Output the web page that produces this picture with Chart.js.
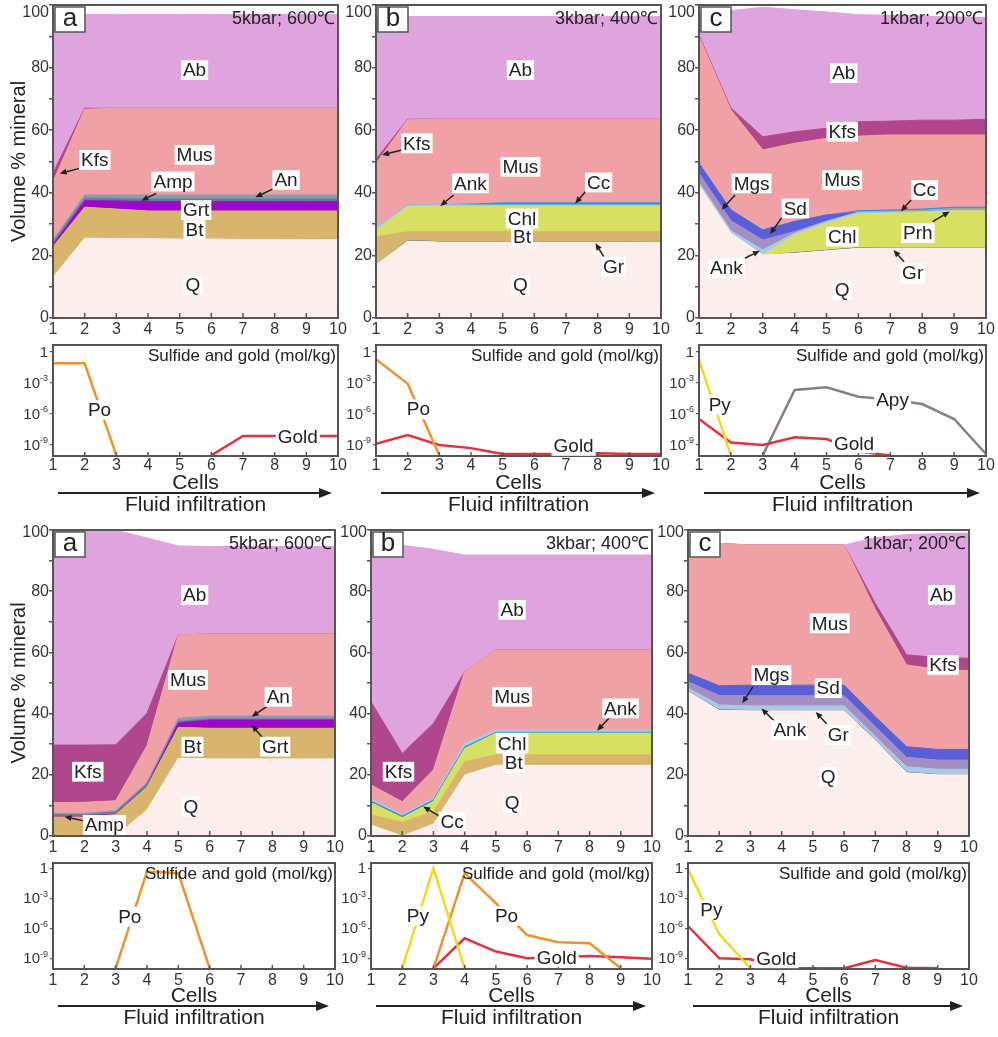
<!DOCTYPE html>
<html><head><meta charset="utf-8">
<script src="https://cdn.jsdelivr.net/npm/chart.js@4.4.1/dist/chart.umd.min.js"></script>
<style>
html,body{margin:0;padding:0;background:#fff;}
body{width:998px;height:1037px;position:relative;overflow:hidden;}
canvas{position:absolute;}
</style></head><body>
<script>
// ---- data -------------------------------------------------------------
const cells = [1, 2, 3, 4, 5, 6, 7, 8, 9, 10];
const volTicks = [0, 20, 40, 60, 80, 100];
const logTicks = [1e-9, 1e-6, 1e-3, 1];

// Upper series, 5 kbar / 600 C : volume % per cell
const topA_Q   = [13.0, 25.5, 25.4, 25.3, 25.2, 25.2, 25.1, 25.1, 25.0, 25.0];
const topA_Bt  = [9.8, 9.9, 9.4, 8.9, 9.0, 9.0, 9.1, 9.1, 9.2, 9.2];
const topA_Grt = [0.6, 2.1, 2.6, 3.0, 3.0, 3.0, 3.0, 3.0, 3.0, 3.0];
const topA_Amp = [0.8, 0.8, 0.8, 0.8, 0.8, 0.8, 0.8, 0.8, 0.8, 0.8];
const topA_An  = [0.7, 1.0, 1.1, 1.3, 1.3, 1.3, 1.3, 1.3, 1.3, 1.3];
const topA_Mus = [18.6, 27.4, 27.7, 27.7, 27.7, 27.7, 27.7, 27.7, 27.7, 27.7];
const topA_Kfs = [2.8, 0.3, 0, 0, 0, 0, 0, 0, 0, 0];
const topA_Ab  = [50.7, 30.0, 30.0, 30.0, 30.0, 30.0, 30.0, 30.0, 30.0, 30.0];

// Upper series, 3 kbar / 400 C
const topB_Q   = [16.9, 24.6, 24.3, 24.3, 24.3, 24.3, 24.3, 24.3, 24.3, 24.3];
const topB_Gr  = [0, 0.3, 0.3, 0.3, 0.3, 0.3, 0.3, 0.3, 0.3, 0.3];
const topB_Bt  = [9.0, 2.7, 3.0, 3.0, 3.0, 3.0, 3.0, 3.0, 3.0, 3.0];
const topB_Chl = [2.1, 7.9, 8.0, 8.0, 8.0, 8.0, 8.0, 8.0, 8.0, 8.0];
const topB_Ank = [0.8, 0.6, 0.6, 0.5, 0.5, 0.5, 0.5, 0.5, 0.5, 0.5];
const topB_Cc  = [0, 0, 0, 0.3, 0.7, 0.7, 0.7, 0.7, 0.7, 0.7];
const topB_Mus = [20.6, 27.2, 27.3, 27.1, 26.7, 26.7, 26.7, 26.7, 26.7, 26.7];
const topB_Kfs = [1.3, 0.2, 0, 0, 0, 0, 0, 0, 0, 0];
const topB_Ab  = [45.6, 32.8, 32.8, 32.8, 32.8, 32.8, 32.8, 32.8, 32.8, 32.8];

// Upper series, 1 kbar / 200 C
const topC_Q   = [42.5, 27.1, 20.1, 20.7, 21.5, 22.3, 22.4, 22.4, 22.4, 22.4];
const topC_Gr  = [0, 0, 0, 0.3, 0.3, 0.3, 0.3, 0.3, 0.3, 0.3];
const topC_Chl = [0, 0, 0, 5.5, 8.4, 10.6, 10.8, 11.0, 11.5, 11.5];
const topC_Ank = [0.8, 0.8, 1.6, 0.6, 0.6, 0.6, 0.4, 0.3, 0.3, 0.3];
const topC_Mgs = [2.9, 3.2, 3.2, 0.5, 0.2, 0, 0, 0, 0, 0];
const topC_Sd  = [3.2, 3.4, 3.2, 3.2, 1.9, 0, 0, 0, 0, 0];
const topC_Prh = [0, 0, 0, 0, 0, 0.1, 0.2, 0.4, 0.5, 0.5];
const topC_Cc  = [0, 0, 0, 0, 0, 0.4, 0.4, 0.4, 0.4, 0.4];
const topC_Mus = [40.5, 32.0, 25.6, 25.0, 24.5, 23.8, 24.0, 23.7, 23.1, 23.1];
const topC_Kfs = [0.4, 0.6, 4.2, 3.7, 3.2, 4.6, 4.4, 4.7, 4.7, 5.0];
const topC_Ab  = [7.0, 31.1, 41.4, 39.0, 37.2, 34.2, 33.8, 33.3, 33.0, 32.5];

// Lower series, 5 kbar / 600 C
const botA_Q   = [0, 0, 0, 8.5, 25.4, 25.2, 25.2, 25.2, 25.2, 25.2];
const botA_Bt  = [6.2, 6.2, 7.0, 7.6, 10.1, 10.0, 10.0, 10.0, 10.0, 10.0];
const botA_Grt = [0.2, 0.2, 0.2, 0.3, 1.5, 2.7, 2.7, 2.7, 2.7, 2.7];
const botA_Amp = [0.6, 0.6, 0.7, 0.6, 0.5, 0.4, 0.4, 0.4, 0.4, 0.4];
const botA_An  = [0.4, 0.4, 0.4, 0.5, 1.0, 0.9, 0.9, 0.9, 0.9, 0.9];
const botA_Mus = [3.5, 3.6, 3.2, 12.0, 27.2, 26.8, 26.8, 26.8, 26.8, 26.8];
const botA_Kfs = [18.8, 18.7, 18.3, 10.6, 0, 0, 0, 0, 0, 0];
const botA_Ab  = [70.3, 70.3, 70.2, 57.3, 29.1, 28.6, 28.6, 28.6, 28.6, 28.6];

// Lower series, 3 kbar / 400 C
const botB_Q   = [3.6, 0, 3.9, 19.9, 23.1, 23.1, 23.1, 23.1, 23.1, 23.1];
const botB_Bt  = [3.3, 4.5, 4.1, 4.4, 3.4, 3.4, 3.4, 3.4, 3.4, 3.4];
const botB_Chl = [4.0, 1.5, 3.3, 4.3, 7.1, 7.1, 7.1, 7.1, 7.1, 7.1];
const botB_Cc  = [0.5, 0.5, 0.5, 0.5, 0.3, 0.3, 0.3, 0.3, 0.3, 0.3];
const botB_Ank = [0.6, 0.5, 0.5, 1.2, 0.7, 0.7, 0.7, 0.7, 0.7, 0.7];
const botB_Mus = [4.7, 4.2, 9.3, 23.4, 26.2, 26.2, 26.2, 26.2, 26.2, 26.2];
const botB_Kfs = [27.2, 15.8, 15.2, 0, 0, 0, 0, 0, 0, 0];
const botB_Ab  = [50.7, 68.0, 56.9, 38.1, 31.0, 31.0, 31.0, 31.0, 31.0, 31.0];

// Lower series, 1 kbar / 200 C
const botC_Q   = [47.2, 41.1, 40.9, 40.9, 40.9, 40.9, 31.2, 20.7, 20.0, 20.0];
const botC_Gr  = [0.3, 0.3, 0.3, 0.3, 0.3, 0.3, 0.3, 0.3, 0.3, 0.3];
const botC_Ank = [0.8, 1.4, 1.3, 1.3, 1.3, 1.3, 1.0, 1.6, 1.5, 1.5];
const botC_Mgs = [2.1, 3.1, 3.3, 3.3, 3.3, 3.3, 3.2, 3.1, 3.0, 3.0];
const botC_Sd  = [2.8, 3.2, 3.5, 3.5, 3.5, 3.5, 3.3, 3.5, 3.5, 3.5];
const botC_Mus = [42.7, 46.5, 45.8, 45.8, 45.8, 45.8, 35.0, 26.7, 26.2, 25.7];
const botC_Kfs = [0, 0, 0, 0, 0, 0, 2.0, 3.3, 3.8, 4.1];
const botC_Ab  = [0, 0, 0, 0, 0, 0, 21.5, 39.3, 40.5, 40.9];

// Sulfide and gold in the fluid (mol/kg)
const topA_Po   = [0.075, 0.075, 1e-10, null, null, null, null, null, null, null];
const topA_Gold = [null, null, null, null, null, 1e-10, 7.4e-9, 7.4e-9, 7.4e-9, 7.4e-9];
const topB_Po   = [0.19, 7.9e-4, 1e-10, null, null, null, null, null, null, null];
const topB_Gold = [1.3e-9, 9.3e-9, 1e-9, 5e-10, 1.35e-10, 1.35e-10, 1.35e-10, 1.6e-10, 1.35e-10, 1.35e-10];
const topC_Py   = [0.16, 1e-10, null, null, null, null, null, null, null, null];
const topC_Gold = [3.2e-7, 1.7e-9, 1e-9, 5.5e-9, 3.8e-9, 2.3e-10, 1e-10, null, null, null];
const topC_Apy  = [null, null, 1e-10, 2e-4, 3.7e-4, 4.6e-5, 2.5e-5, 9e-6, 3.2e-7, 1.35e-10];
const botA_Po   = [null, null, 1e-10, 0.47, 0.32, 1e-10, null, null, null, null];
const botB_Py   = [null, 1e-10, 1, 1e-10, null, null, null, null, null, null];
const botB_Po   = [null, null, 1e-10, 0.32, 3.2e-4, 2.1e-7, 4e-8, 3.2e-8, 1e-10, null];
const botB_Gold = [null, null, 1e-10, 1e-7, 4.7e-9, 1e-9, 1.26e-9, 1.7e-9, 1.26e-9, 8.9e-10];
const botC_Py   = [0.8, 2.7e-7, 1e-10, null, null, null, null, null, null, null];
const botC_Gold = [1.7e-6, 1e-9, 8e-10, 1e-10, 1e-10, 1e-10, 6.8e-10, 1.15e-10, 1e-10, null];

// ---- styles -----------------------------------------------------------
const FONT = '"Liberation Sans", Arial, Helvetica, sans-serif';
const INK = '#222';
const AXIS = '#555';
const mineralColor = {
  Q: '#fdeeee', Bt: '#d9b46c', Grt: '#9b08cc', Amp: '#6a7d92', An: '#8a9cae',
  Mus: '#f0a1a6', Kfs: '#b0478c', Ab: '#dfa3dd', Chl: '#d8e061', Ank: '#a9c9e8',
  Cc: '#2c92d6', Gr: '#4a4a4a', Mgs: '#a38fc3', Sd: '#5a5fd8', Prh: '#9fa88e'
};
// layers drawn as fill only (no edge stroke)
const fillOnly = ['Gr'];
const lineColor = { Po: '#f0932e', Gold: '#e3323f', Py: '#f2da20', Apy: '#8b7f7b' };

// ---- drawing helpers --------------------------------------------------
function seg(ctx, x1, y1, x2, y2) { ctx.beginPath(); ctx.moveTo(x1, y1); ctx.lineTo(x2, y2); ctx.stroke(); }

function arrow(ctx, x1, y1, x2, y2, lw, hl, hw) {
  const a = Math.atan2(y2 - y1, x2 - x1);
  const bx = x2 - hl * Math.cos(a), by = y2 - hl * Math.sin(a);
  ctx.lineWidth = lw;
  seg(ctx, x1, y1, bx, by);
  ctx.beginPath();
  ctx.moveTo(x2, y2);
  ctx.lineTo(bx + hw / 2 * Math.sin(a), by - hw / 2 * Math.cos(a));
  ctx.lineTo(bx - hw / 2 * Math.sin(a), by + hw / 2 * Math.cos(a));
  ctx.closePath();
  ctx.fill();
}

function text(ctx, s, x, y, size, align, boxed, color) {
  ctx.font = size + 'px ' + FONT;
  const w = ctx.measureText(s).width;
  ctx.textAlign = align || 'center';
  ctx.textBaseline = 'middle';
  if (boxed) {
    const l = align === 'right' ? x - w : align === 'left' ? x : x - w / 2;
    ctx.fillStyle = '#fff';
    ctx.fillRect(l - 2, y - size * 0.52, w + 4, size * 1.04);
  }
  ctx.fillStyle = color || INK;
  ctx.fillText(s, x, y + 1);
}

// panel furniture: frame, inward x ticks, tag, condition, annotations
function decor(d) {
  return {
    id: 'decor',
    afterDatasetsDraw(chart) {
      const { ctx, chartArea: A } = chart;
      const xs = chart.scales.x, ys = chart.scales.y;
      const py = v => ys.getPixelForValue(d.log ? Math.pow(10, v) : v);
      const px = v => xs.getPixelForValue(v);
      ctx.save();
      ctx.strokeStyle = AXIS;
      ctx.lineWidth = 1.5;
      xs.ticks.forEach(t => { const p = px(t.value); seg(ctx, p, A.bottom, p, A.bottom - (d.log ? 4 : 5)); });
      ctx.lineWidth = 2;
      ctx.strokeRect(A.left, A.top, A.right - A.left, A.bottom - A.top);

      if (d.log) {
        ys.ticks.forEach(t => {
          const e = Math.round(Math.log10(t.value));
          const y = ys.getPixelForValue(t.value);
          const r = A.left - 5;
          ctx.fillStyle = '#333';
          ctx.textBaseline = 'middle';
          ctx.textAlign = 'right';
          if (e === 0) {
            ctx.font = '15px ' + FONT; ctx.fillText('1', r, y + 1);
          } else {
            ctx.font = '9px ' + FONT;
            const sup = String(e);
            ctx.fillText(sup, r, y - 4);
            const sw = ctx.measureText(sup).width;
            ctx.font = '15px ' + FONT;
            ctx.fillText('10', r - sw, y + 1);
          }
        });
        text(ctx, 'Sulfide and gold (mol/kg)', A.right - 2, A.top + 10, 17, 'right', false);
        const cx = (A.left + A.right) / 2;
        text(ctx, 'Cells', cx, A.bottom + 26, 21);
        ctx.fillStyle = INK; ctx.strokeStyle = INK;
        arrow(ctx, A.left + 5, A.bottom + 37, A.right - 6, A.bottom + 37, 2.2, 13, 10);
        text(ctx, 'Fluid infiltration', cx, A.bottom + 48, 21);
      } else {
        // top value of the volume axis sits just inside the figure edge
        text(ctx, '100', A.left - 4, py(100) + d.topNudge - 1, 16, 'right', false, '#333');
        ctx.fillStyle = '#fff';
        ctx.fillRect(A.left + 2, A.top + 2, 30, 25);
        ctx.strokeStyle = AXIS; ctx.lineWidth = 1.5;
        ctx.strokeRect(A.left + 2, A.top + 2, 30, 25);
        text(ctx, d.tag, A.left + 17, A.top + 13, 26);
        text(ctx, d.cond, A.right - 3, A.top + 13, 18, 'right', false);
        if (d.yTitle) {
          ctx.save();
          ctx.translate(A.left - 35, (A.top + A.bottom) / 2);
          ctx.rotate(-Math.PI / 2);
          text(ctx, 'Volume % mineral', 0, 0, 20);
          ctx.restore();
        }
      }

      d.labels.forEach(l => {
        if (l.to) {
          ctx.fillStyle = INK; ctx.strokeStyle = INK;
          arrow(ctx, px(l.from[0]), py(l.from[1]), px(l.to[0]), py(l.to[1]), 1.5, 7, 6);
        }
        text(ctx, l.t, px(l.x), py(l.y), 19, 'center', true);
      });
      ctx.restore();
    }
  };
}

function makeCanvas(box, pad) {
  const c = document.createElement('canvas');
  c.width = box.w + pad.l + pad.r;
  c.height = box.h + pad.t + pad.b;
  c.style.left = (box.left - pad.l) + 'px';
  c.style.top = (box.top - pad.t) + 'px';
  c.style.width = c.width + 'px';
  c.style.height = c.height + 'px';
  document.body.appendChild(c);
  return c;
}

function xAxis(padTop, h) {
  return {
    type: 'linear', min: 1, max: 10,
    afterBuildTicks: s => { s.ticks = cells.map(v => ({ value: v })); },
    afterFit: s => { s.height = h; s.paddingLeft = 0; s.paddingRight = 0; },
    grid: { display: false, drawTicks: false },
    border: { display: false },
    ticks: { autoSkip: false, maxRotation: 0, padding: padTop, color: '#333', font: { size: 16, family: FONT } }
  };
}

function commonOpts() {
  return {
    responsive: false, animation: false, devicePixelRatio: 1,
    plugins: { legend: { display: false }, tooltip: { enabled: false } },
    elements: { point: { radius: 0 }, line: { tension: 0 } }
  };
}

function areaChart(box, layers, deco) {
  const pad = { l: 50, t: 14, r: 12, b: 26 };
  const canvas = makeCanvas(box, pad);
  let run = cells.map(() => 0);
  const datasets = layers.map(([name, vals], i) => {
    run = run.map((s, j) => s + vals[j]);
    return {
      label: name,
      data: cells.map((c, j) => ({ x: c, y: +run[j].toFixed(3) })),
      backgroundColor: mineralColor[name], borderColor: mineralColor[name],
      borderWidth: fillOnly.includes(name) ? 0 : 1,
      fill: i === 0 ? 'origin' : '-1', pointRadius: 0
    };
  });
  const o = commonOpts();
  o.layout = { padding: { left: 0, top: pad.t, right: pad.r, bottom: 0 } };
  o.scales = {
    x: xAxis(2, pad.b),
    y: {
      min: 0, max: 100,
      afterBuildTicks: s => { s.ticks = [0,10,20,30,40,50,60,70,80,90,100].map(v => ({ value: v })); },
      afterFit: s => { s.width = pad.l; s.paddingTop = 0; s.paddingBottom = 0; },
      grid: { display: true, drawOnChartArea: false, drawTicks: true, tickLength: 4, color: AXIS, lineWidth: 1.5 },
      border: { display: false },
      ticks: { autoSkip: false, padding: 0, color: '#333', font: { size: 16, family: FONT },
        callback: v => (volTicks.includes(v) && v !== 100) ? String(v) : '' }
    }
  };
  new Chart(canvas, { type: 'line', data: { datasets }, options: o, plugins: [decor(deco)] });
}

function fluidChart(box, series, range, deco) {
  const pad = { l: 50, t: 14, r: 12, b: 64 };
  const canvas = makeCanvas(box, pad);
  const datasets = series.map(([name, vals]) => ({
    label: name,
    data: cells.map((c, j) => ({ x: c, y: vals[j] })),
    borderColor: lineColor[name], backgroundColor: lineColor[name],
    borderWidth: 2.5, fill: false, pointRadius: 0, spanGaps: false
  }));
  const o = commonOpts();
  o.layout = { padding: { left: 0, top: pad.t, right: pad.r, bottom: 0 } };
  o.scales = {
    x: xAxis(range.labelPad, pad.b),
    y: {
      type: 'logarithmic', min: range.min, max: range.max,
      afterBuildTicks: s => { s.ticks = logTicks.map(v => ({ value: v })); },
      afterFit: s => { s.width = pad.l; s.paddingTop = 0; s.paddingBottom = 0; },
      grid: { display: true, drawOnChartArea: false, drawTicks: true, tickLength: 3, color: AXIS, lineWidth: 1.2 },
      border: { display: false },
      ticks: { display: false }
    }
  };
  deco.log = true;
  new Chart(canvas, { type: 'line', data: { datasets }, options: o, plugins: [decor(deco)] });
}

// ---- panels -----------------------------------------------------------
const upRange = { min: 8.7e-11, max: 4.4, labelPad: 0 };
const loRange = { min: 8.5e-11, max: 3.4, labelPad: 2 };

areaChart({ left: 53, top: 5, w: 285, h: 313 },
  [['Q', topA_Q], ['Bt', topA_Bt], ['Grt', topA_Grt], ['Amp', topA_Amp], ['An', topA_An],
   ['Mus', topA_Mus], ['Kfs', topA_Kfs], ['Ab', topA_Ab]],
  { tag: 'a', cond: '5kbar; 600\u2103', yTitle: true, topNudge: 8, labels: [
    { t: 'Ab', x: 5.47, y: 79.2 },
    { t: 'Mus', x: 5.47, y: 52.1 },
    { t: 'Kfs', x: 2.32, y: 50.5, from: [1.84, 47.8], to: [1.21, 46.2] },
    { t: 'Amp', x: 4.79, y: 43.6, from: [4.26, 39.8], to: [3.79, 37.5] },
    { t: 'An', x: 8.36, y: 44.1, from: [7.99, 41.4], to: [7.39, 38.6] },
    { t: 'Grt', x: 5.52, y: 34.5 },
    { t: 'Bt', x: 5.47, y: 28.1 },
    { t: 'Q', x: 5.42, y: 10.5 } ] });

areaChart({ left: 376, top: 5, w: 285, h: 313 },
  [['Q', topB_Q], ['Gr', topB_Gr], ['Bt', topB_Bt], ['Chl', topB_Chl], ['Ank', topB_Ank],
   ['Cc', topB_Cc], ['Mus', topB_Mus], ['Kfs', topB_Kfs], ['Ab', topB_Ab]],
  { tag: 'b', cond: '3kbar; 400\u2103', topNudge: 8, labels: [
    { t: 'Ab', x: 5.56, y: 79.2 },
    { t: 'Kfs', x: 2.29, y: 55.8, from: [1.82, 53.7], to: [1.19, 52.1] },
    { t: 'Mus', x: 5.56, y: 48.3 },
    { t: 'Ank', x: 3.98, y: 43.0, from: [3.45, 39.3], to: [3.03, 35.8] },
    { t: 'Cc', x: 8.03, y: 43.3, from: [7.66, 40.9], to: [7.29, 36.6] },
    { t: 'Chl', x: 5.61, y: 31.8 },
    { t: 'Bt', x: 5.61, y: 26.0 },
    { t: 'Gr', x: 8.5, y: 16.4, from: [8.19, 19.6], to: [7.93, 23.9] },
    { t: 'Q', x: 5.56, y: 10.5 } ] });

areaChart({ left: 699, top: 5, w: 287, h: 313 },
  [['Q', topC_Q], ['Gr', topC_Gr], ['Chl', topC_Chl], ['Ank', topC_Ank], ['Mgs', topC_Mgs],
   ['Sd', topC_Sd], ['Prh', topC_Prh], ['Cc', topC_Cc], ['Mus', topC_Mus], ['Kfs', topC_Kfs], ['Ab', topC_Ab]],
  { tag: 'c', cond: '1kbar; 200\u2103', topNudge: 8, labels: [
    { t: 'Ab', x: 5.54, y: 78.2 },
    { t: 'Kfs', x: 5.49, y: 59.5 },
    { t: 'Mus', x: 5.49, y: 44.1 },
    { t: 'Mgs', x: 2.65, y: 43.0, from: [2.13, 39.3], to: [1.71, 34.6] },
    { t: 'Sd', x: 4.02, y: 35.0, from: [3.6, 32.1], to: [3.23, 26.8] },
    { t: 'Cc', x: 8.07, y: 40.9, from: [7.65, 37.7], to: [7.33, 34.0] },
    { t: 'Prh', x: 7.86, y: 27.1, from: [8.33, 30.8], to: [8.86, 34.0] },
    { t: 'Chl', x: 5.49, y: 26.0 },
    { t: 'Ank', x: 1.86, y: 15.9, from: [2.44, 19.1], to: [2.91, 21.5] },
    { t: 'Gr', x: 7.7, y: 14.3, from: [7.43, 18.0], to: [7.1, 21.7] },
    { t: 'Q', x: 5.49, y: 8.9 } ] });

fluidChart({ left: 53, top: 345, w: 285, h: 111 },
  [['Po', topA_Po], ['Gold', topA_Gold]], upRange,
  { labels: [ { t: 'Po', x: 2.47, y: -5.62 }, { t: 'Gold', x: 8.73, y: -8.2 } ] });

fluidChart({ left: 376, top: 345, w: 285, h: 111 },
  [['Po', topB_Po], ['Gold', topB_Gold]], upRange,
  { labels: [ { t: 'Po', x: 2.34, y: -5.55 }, { t: 'Gold', x: 7.24, y: -9.09 } ] });

fluidChart({ left: 699, top: 345, w: 287, h: 111 },
  [['Py', topC_Py], ['Gold', topC_Gold], ['Apy', topC_Apy]], upRange,
  { labels: [ { t: 'Py', x: 1.65, y: -5.14 }, { t: 'Apy', x: 7.07, y: -4.66 }, { t: 'Gold', x: 5.86, y: -8.84 } ] });

areaChart({ left: 53, top: 530, w: 282, h: 306 },
  [['Q', botA_Q], ['Bt', botA_Bt], ['Grt', botA_Grt], ['Amp', botA_Amp], ['An', botA_An],
   ['Mus', botA_Mus], ['Kfs', botA_Kfs], ['Ab', botA_Ab]],
  { tag: 'a', cond: '5kbar; 600\u2103', yTitle: true, topNudge: 3, labels: [
    { t: 'Ab', x: 5.52, y: 78.8 },
    { t: 'Mus', x: 5.31, y: 51.0 },
    { t: 'An', x: 8.19, y: 45.5, from: [7.82, 42.3], to: [7.34, 39.0] },
    { t: 'Grt', x: 8.09, y: 29.2, from: [7.71, 31.9], to: [7.34, 36.3] },
    { t: 'Bt', x: 5.45, y: 29.2 },
    { t: 'Kfs', x: 2.11, y: 21.0 },
    { t: 'Q', x: 5.4, y: 9.6 },
    { t: 'Amp', x: 2.64, y: 3.6, from: [2.11, 4.7], to: [1.37, 6.3] } ] });

areaChart({ left: 371, top: 530, w: 281, h: 306 },
  [['Q', botB_Q], ['Bt', botB_Bt], ['Chl', botB_Chl], ['Cc', botB_Cc], ['Ank', botB_Ank],
   ['Mus', botB_Mus], ['Kfs', botB_Kfs], ['Ab', botB_Ab]],
  { tag: 'b', cond: '3kbar; 400\u2103', topNudge: 3, labels: [
    { t: 'Ab', x: 5.52, y: 73.9 },
    { t: 'Mus', x: 5.52, y: 45.5 },
    { t: 'Ank', x: 8.99, y: 41.7, from: [8.62, 38.5], to: [8.24, 34.4] },
    { t: 'Chl', x: 5.52, y: 30.3 },
    { t: 'Bt', x: 5.57, y: 23.8 },
    { t: 'Kfs', x: 1.88, y: 21.0 },
    { t: 'Q', x: 5.52, y: 10.7 },
    { t: 'Cc', x: 3.6, y: 4.7, from: [3.22, 6.3], to: [2.67, 9.6] } ] });

areaChart({ left: 688, top: 530, w: 281, h: 306 },
  [['Q', botC_Q], ['Gr', botC_Gr], ['Ank', botC_Ank], ['Mgs', botC_Mgs], ['Sd', botC_Sd],
   ['Mus', botC_Mus], ['Kfs', botC_Kfs], ['Ab', botC_Ab]],
  { tag: 'c', cond: '1kbar; 200\u2103', topNudge: 3, labels: [
    { t: 'Ab', x: 9.12, y: 78.8 },
    { t: 'Mus', x: 5.54, y: 69.5 },
    { t: 'Kfs', x: 9.17, y: 55.9 },
    { t: 'Mgs', x: 3.67, y: 52.6, from: [3.08, 48.8], to: [2.74, 43.4] },
    { t: 'Sd', x: 5.49, y: 48.3 },
    { t: 'Ank', x: 4.26, y: 34.6, from: [3.78, 37.4], to: [3.35, 41.7] },
    { t: 'Gr', x: 5.81, y: 33.0, from: [5.44, 36.7], to: [5.09, 40.5] },
    { t: 'Q', x: 5.49, y: 19.4 } ] });

fluidChart({ left: 53, top: 863, w: 282, h: 106 },
  [['Po', botA_Po]], loRange,
  { labels: [ { t: 'Po', x: 3.45, y: -4.84 } ] });

fluidChart({ left: 371, top: 863, w: 281, h: 106 },
  [['Py', botB_Py], ['Po', botB_Po], ['Gold', botB_Gold]], loRange,
  { labels: [ { t: 'Py', x: 2.5, y: -4.77 }, { t: 'Po', x: 5.34, y: -4.77 }, { t: 'Gold', x: 6.95, y: -8.9 } ] });

fluidChart({ left: 688, top: 863, w: 281, h: 106 },
  [['Py', botC_Py], ['Gold', botC_Gold]], loRange,
  { labels: [ { t: 'Py', x: 1.75, y: -4.17 }, { t: 'Gold', x: 3.83, y: -9.0 } ] });
</script>
</body></html>
